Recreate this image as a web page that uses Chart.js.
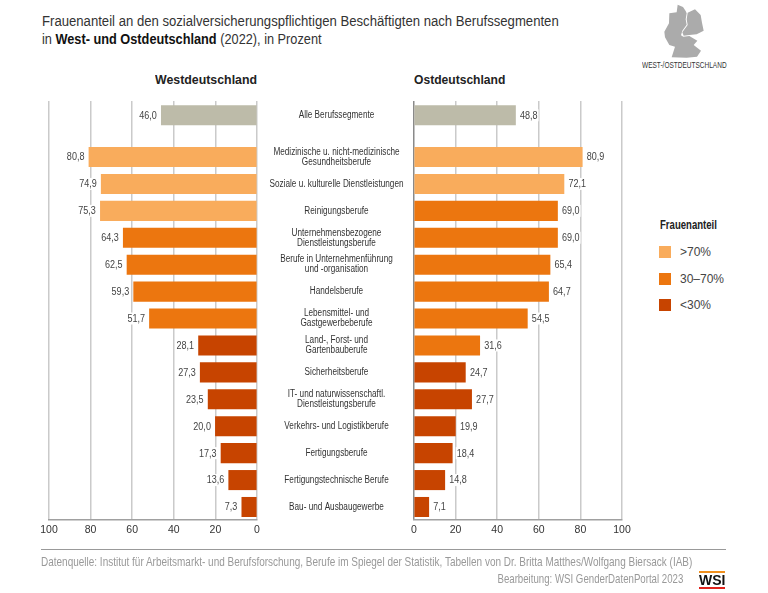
<!DOCTYPE html>
<html lang="de">
<head>
<meta charset="utf-8">
<title>Frauenanteil West- und Ostdeutschland</title>
<script src="https://cdn.jsdelivr.net/npm/chart.js@4"></script>
<style>
html,body{margin:0;padding:0;background:#fff;width:768px;height:593px;overflow:hidden}
.t{position:absolute;white-space:nowrap;font-family:"Liberation Sans",sans-serif;transform-origin:0 50%}
canvas{position:absolute;top:0}
</style>
</head>
<body>
<div class="t" style="left:42px;top:12px;font-size:15.4px;line-height:18px;color:#333;transform:scaleX(.853)">Frauenanteil an den sozialversicherungspflichtigen Beschäftigten nach Berufssegmenten</div>
<div class="t" style="left:42px;top:30px;font-size:15.4px;line-height:18px;color:#333;transform:scaleX(.828)">in <b style="color:#111">West- und Ostdeutschland</b> (2022), in Prozent</div>
<svg style="position:absolute;left:600px;top:0" width="168" height="80" viewBox="0 0 504 240">
<path fill="#ababab" d="M233,14 L249,21 L257,33 L260,40 L257,58 L260,74 L247,92 L243,106 L250,110 L268,108 L292,122 L281,135 L303,152 L291,170 L260,173 L215,172 L225,140 L208,135 L195,112 L193,95 L207,70 L208,40 L230,37 Z"/>
<path fill="#ababab" d="M263,38 L285,28 L302,45 L306,68 L311,92 L290,103 L268,105 L251,107 L247,97 L263,75 L260,58 Z"/>
</svg>
<div class="t" style="left:642px;top:59px;font-size:9.3px;line-height:12px;color:#333;transform:scaleX(.7)">WEST-/OSTDEUTSCHLAND</div>
<div class="t" style="left:155px;top:72px;font-size:13px;line-height:15px;font-weight:bold;color:#222;transform:scaleX(.95)">Westdeutschland</div>
<div class="t" style="left:414px;top:72px;font-size:13px;line-height:15px;font-weight:bold;color:#222;transform:scaleX(.93)">Ostdeutschland</div>

<canvas id="west" width="414" height="593" style="left:0"></canvas>
<canvas id="east" width="246" height="593" style="left:394px"></canvas>

<div id="legend"></div>
<div style="position:absolute;left:41px;top:548.5px;width:685px;height:1px;background:#999"></div>
<div class="t" style="left:41px;top:555px;font-size:12.4px;line-height:15px;color:#999;transform:scaleX(.806)">Datenquelle: Institut für Arbeitsmarkt- und Berufsforschung, Berufe im Spiegel der Statistik, Tabellen von Dr. Britta Matthes/Wolfgang Biersack (IAB)</div>
<div class="t" style="right:85px;top:572px;font-size:12.4px;line-height:15px;color:#999;transform-origin:100% 50%;transform:scaleX(.78)">Bearbeitung: WSI GenderDatenPortal 2023</div>
<div style="position:absolute;left:699px;top:571px;width:26px;height:2px;background:#f0901e"></div>
<div class="t" style="left:699px;top:573px;width:26px;text-align:center;font-weight:bold;font-size:14px;line-height:14px;color:#111;">WSI</div>
<div style="position:absolute;left:699px;top:587px;width:26px;height:2px;background:#e0231c"></div>

<script>
const categories = [
  'Alle Berufssegmente',
  ['Medizinische u. nicht-medizinische','Gesundheitsberufe'],
  'Soziale u. kulturelle Dienstleistungen',
  'Reinigungsberufe',
  ['Unternehmensbezogene','Dienstleistungsberufe'],
  ['Berufe in Unternehmenführung','und -organisation'],
  'Handelsberufe',
  ['Lebensmittel- und','Gastgewerbeberufe'],
  ['Land-, Forst- und','Gartenbauberufe'],
  'Sicherheitsberufe',
  ['IT- und naturwissenschaftl.','Dienstleistungsberufe'],
  'Verkehrs- und Logistikberufe',
  'Fertigungsberufe',
  'Fertigungstechnische Berufe',
  'Bau- und Ausbaugewerbe'
];
const westValues = [46.0,80.8,74.9,75.3,64.3,62.5,59.3,51.7,28.1,27.3,23.5,20.0,17.3,13.6,7.3];
const eastValues = [48.8,80.9,72.1,69.0,69.0,65.4,64.7,54.5,31.6,24.7,27.7,19.9,18.4,14.8,7.1];
const axisTicks = [0,20,40,60,80,100];
const legendTitle = 'Frauenanteil';
const legendLabels = ['>70%','30–70%','<30%'];
const legendColors = ['#F9AC5C','#EC760F','#C74400'];
const totalColor = '#BDBBA9';

const TEXT = '#444';
const numFont = '"Liberation Sans",sans-serif';
const LABEL_SQUEEZE = 0.82;   // the reference uses a condensed face
const LABEL_CENTER = 336.5;

// vertical position of a row: the first row stands a little apart from the others
const rowPos = i => i === 0 ? 0 : i + 0.549;
const rows = categories.map((_, i) => rowPos(i));
const colorOf = (v, i) => i === 0 ? totalColor : v > 70 ? legendColors[0] : v >= 30 ? legendColors[1] : legendColors[2];
const fmt = v => v.toFixed(1).replace('.', ',');

const valueLabels = {
  id: 'valueLabels',
  afterDatasetsDraw(chart) {
    const ctx = chart.ctx, reversed = chart.scales.x.options.reverse;
    const meta = chart.getDatasetMeta(0);
    ctx.save();
    ctx.font = '10.5px ' + numFont;
    ctx.textBaseline = 'middle';
    ctx.textAlign = reversed ? 'right' : 'left';
    meta.data.forEach((bar, i) => {
      const txt = fmt(chart.data.datasets[0].data[i].x);
      const w = ctx.measureText(txt).width * 0.86;
      const x = reversed ? bar.x - 4.5 : bar.x + 4.5;
      ctx.fillStyle = '#fff';
      ctx.fillRect(reversed ? x - w - 1 : x - 1, bar.y - 6, w + 2, 12);
      ctx.fillStyle = TEXT;
      ctx.fillText(txt, x, bar.y + 0.5, w);
    });
    ctx.restore();
  }
};

function squeezeLabels(scale) {
  if (scale._squeezed) return;
  scale._squeezed = true;
  const draw = scale.drawLabels;
  scale._computeLabelArea = () => undefined;
  scale.drawLabels = function (area) {
    const ctx = this.ctx;
    const drawnAt = this.left + this.options.ticks.padding + this._getLabelSizes().widest.width / 2;
    ctx.save();
    ctx.translate(LABEL_CENTER, 0);
    ctx.scale(LABEL_SQUEEZE, 1);
    ctx.translate(-drawnAt, 0);
    draw.call(this, area);
    ctx.restore();
  };
}

function makeChart(id, values, isWest) {
  return new Chart(document.getElementById(id), {
    type: 'bar',
    data: {
      datasets: [{
        data: values.map((v, i) => ({ x: v, y: rows[i] })),
        backgroundColor: values.map(colorOf),
        barThickness: 19.4,
        borderWidth: 0
      }]
    },
    plugins: [valueLabels],
    options: {
      indexAxis: 'y',
      responsive: false,
      animation: false,
      devicePixelRatio: 1,
      layout: { padding: isWest ? { left: 49, top: 101, right: 0, bottom: 0 } : { left: 20, top: 101, right: 18, bottom: 0 } },
      plugins: { legend: { display: false }, title: { display: false }, tooltip: { enabled: false } },
      scales: {
        x: {
          type: 'linear', position: 'bottom', min: 0, max: 100, reverse: isWest,
          afterBuildTicks(s) { s.ticks = axisTicks.map(value => ({ value })); },
          afterFit(s) { s.height = 73; s.paddingLeft = 0; s.paddingRight = 0; },
          grid: {
            drawTicks: false, lineWidth: 1.5,
            color: c => (!isWest && c.tick && c.tick.value === 0) ? '#8a8a8a' : '#cacaca'
          },
          border: { display: true, color: '#a0a0a0', width: 1.5 },
          ticks: { autoSkip: false, maxRotation: 0, padding: 4, color: '#333', font: { family: numFont, size: 10.5 } }
        },
        y: {
          type: 'linear', position: 'right', display: isWest, reverse: true, offset: false, min: -0.531, max: 15.032,
          afterBuildTicks(s) { s.ticks = rows.map(value => ({ value })); },
          afterFit(s) { if (isWest) { s.width = 157; s.paddingTop = 0; s.paddingBottom = 0; squeezeLabels(s); } },
          grid: { display: false, offset: false, drawTicks: false },
          border: { display: false },
          ticks: {
            autoSkip: false, crossAlign: 'center', padding: 0, color: '#333',
            font: { family: numFont, size: 10, lineHeight: 1 },
            callback: (v, i) => categories[i]
          }
        }
      }
    }
  });
}
makeChart('west', westValues, true);
makeChart('east', eastValues, false);

// Legend
const lg = document.getElementById('legend');
const head = document.createElement('div');
head.className = 't';
head.style.cssText = 'left:660px;top:218px;font-size:12.6px;line-height:15px;font-weight:bold;color:#222;transform:scaleX(.76)';
head.textContent = legendTitle;
lg.appendChild(head);
legendLabels.forEach((lab, i) => {
  const y = 252 + i * 26.6;
  const sw = document.createElement('div');
  sw.style.cssText = `position:absolute;left:659px;top:${y - 6}px;width:12px;height:12px;background:${legendColors[i]}`;
  lg.appendChild(sw);
  const tx = document.createElement('div');
  tx.className = 't';
  tx.style.cssText = `left:680px;top:${y - 8}px;font-size:12px;line-height:16px;color:#444`;
  tx.textContent = lab;
  lg.appendChild(tx);
});
</script>
</body>
</html>
